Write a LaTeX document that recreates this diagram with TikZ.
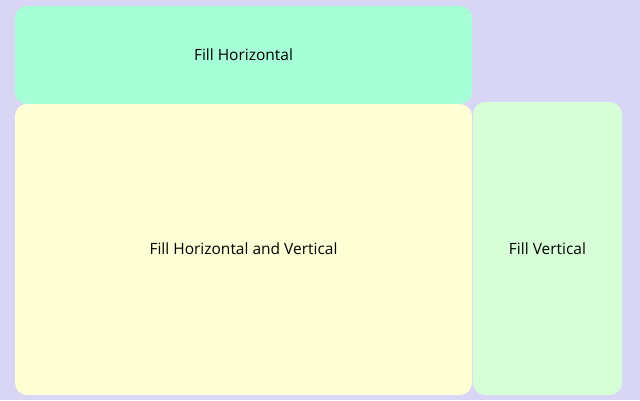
\documentclass[tikz,border=0pt]{standalone}
\usepackage{fontspec}
\setmainfont{Open Sans}
\definecolor{bgc}{HTML}{D8D5F5}
\definecolor{topc}{HTML}{A6FFD6}
\definecolor{bigc}{HTML}{FFFFD6}
\definecolor{rightc}{HTML}{D6FFD8}
\tikzset{
  panel/.style={rounded corners=12pt, draw=none},
  lbl/.style={font=\fontsize{15.5}{18}\selectfont, text=black}
}
\begin{document}
\begin{tikzpicture}[x=1pt,y=-1pt]
\fill[bgc] (0,0) rectangle (640,400);
\useasboundingbox (0,0) rectangle (640,400);
\fill[panel, topc] (15,6) rectangle (472,104);
\fill[panel, bigc] (15,104) rectangle (472,395);
\fill[panel, rightc] (473,102) rectangle (622,395);
\node[lbl] (th) at (243.5,55) {Fill Horizontal};
\node[lbl] (bh) at (243.5,249) {Fill Horizontal and Vertical};
\node[lbl] (rv) at (547.5,248.5) {Fill Vertical};
\end{tikzpicture}
\end{document}
